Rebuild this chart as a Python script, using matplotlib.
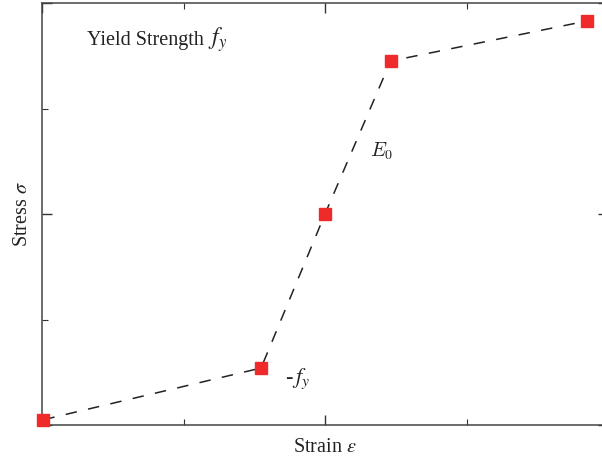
import numpy as np
import matplotlib.pyplot as plt
from matplotlib.ticker import MultipleLocator

plt.rcParams['font.family'] = ['Liberation Serif', 'DejaVu Serif']
plt.rcParams['mathtext.fontset'] = 'stix'

# bilinear stress-strain curve (normalised)
strain = [-0.995, -0.226, 0.0, 0.232, 0.926]
stress = [-0.975, -0.73, 0.0, 0.725, 0.915]

fig = plt.figure(figsize=(6.02, 4.62), dpi=100)
ax = fig.add_axes([42/602, 37/462, 566/602, 422/462])

ax.plot(strain, stress, color='#222222', lw=1.1, ls=(0, (7.5, 7.5)), zorder=2)
ax.plot(strain, stress, ls='none', marker='s', ms=8.5, mfc='#ee2a2a',
        mec='#ee2a2a', clip_on=False, zorder=3)

ax.set_xlim(-1, 1)
ax.set_ylim(-1, 1)
ax.xaxis.set_major_locator(MultipleLocator(1))
ax.xaxis.set_minor_locator(MultipleLocator(0.5))
ax.yaxis.set_major_locator(MultipleLocator(1))
ax.yaxis.set_minor_locator(MultipleLocator(0.5))
ax.tick_params(which='both', direction='in', top=True, right=True,
               labelbottom=False, labelleft=False, color='#333333')
ax.tick_params(which='major', length=7, width=1)
ax.tick_params(which='minor', length=4, width=0.8)
for s in ax.spines.values():
    s.set_color('#444444')
    s.set_linewidth(1.1)

ax.text(-0.84, 0.8, 'Yield Strength', fontsize=14.5, color='#222222')
ax.text(-0.415, 0.8, '$f_y$', fontsize=17, color='#222222')
ax.text(0.16, 0.27, '$E_0$', fontsize=14.5, color='#222222',
        math_fontfamily='cm')
ax.text(-0.14, -0.8, '-$\\,f_y$', fontsize=16, color='#222222')

ax.set_xlabel('Strain $\\varepsilon$', fontsize=14.5, color='#222222', labelpad=9)
ax.set_ylabel('Stress $\\sigma$', fontsize=14.5, color='#222222', labelpad=7)

fig.savefig('out.png', dpi=100)
